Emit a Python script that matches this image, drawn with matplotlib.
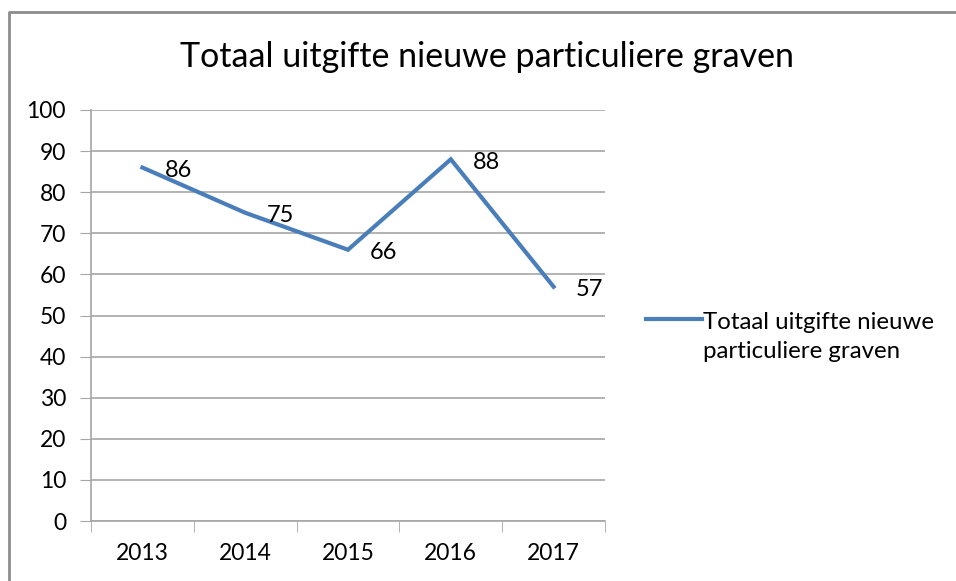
import matplotlib.pyplot as plt
from matplotlib.lines import Line2D

years = ["2013", "2014", "2015", "2016", "2017"]
graven = [86, 75, 66, 88, 57]
y_ticks = [0, 10, 20, 30, 40, 50, 60, 70, 80, 90, 100]
title = "Totaal uitgifte nieuwe particuliere graven"
legend_label = "Totaal uitgifte nieuwe\nparticuliere graven"

plt.rcParams['font.family'] = ['Lato', 'DejaVu Sans']
line_color = '#4a7ebb'
grid_color = '#a6a6a6'

fig = plt.figure(figsize=(9.56, 5.81), dpi=100)
ax = fig.add_axes([91 / 956, 1 - 521 / 581, 514 / 956, 411 / 581])

x = list(range(len(years)))
ax.plot(x, graven, color=line_color, lw=3, solid_joinstyle='miter')
for xi, v in zip(x, graven):
    ax.annotate(str(v), (xi, v), xytext=(22, -3), textcoords='offset pixels',
                ha='left', va='center', fontsize=17, color='black')

ax.set_xlim(-0.5, len(years) - 0.5)
ax.set_ylim(0, 100)
ax.set_yticks(y_ticks)
ax.set_xticks(x)
ax.set_xticklabels(years)
ax.set_xticks([i - 0.5 for i in range(len(years) + 1)], minor=True)
ax.tick_params(axis='x', which='major', length=0, pad=16, labelsize=16.5)
ax.tick_params(axis='x', which='minor', length=8, color=grid_color, direction='out')
ax.tick_params(axis='y', length=8, color=grid_color, labelsize=16.5, pad=10)
ax.yaxis.grid(True, color=grid_color, lw=1.2)
ax.set_axisbelow(True)
for s in ['top', 'right']:
    ax.spines[s].set_visible(False)
for s in ['left', 'bottom']:
    ax.spines[s].set_color(grid_color)
    ax.spines[s].set_linewidth(1.2)

fig.text(487 / 956, 1 - 57 / 581, title, ha='center', va='center', fontsize=24.5)

# legend
fig.add_artist(Line2D([646 / 956, 702 / 956], [1 - 319 / 581, 1 - 319 / 581],
                      color=line_color, lw=3))
fig.text(703 / 956, 1 - 337 / 581, legend_label, ha='left', va='center',
         fontsize=17.3, linespacing=1.45)

# chart border (left and top visible)
fig.add_artist(Line2D([8.5 / 956, 8.5 / 956, 1.0], [0.0, 1 - 11.5 / 581, 1 - 11.5 / 581],
                      color='#8c8c8c', lw=2))

fig.savefig('out.png', dpi=100)
